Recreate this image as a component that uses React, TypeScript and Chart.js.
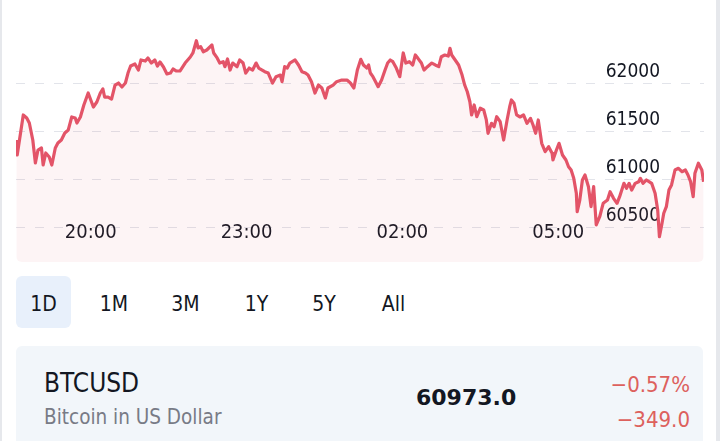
import React, { useEffect, useRef } from "react";
import { Chart, registerables } from "chart.js";

Chart.register(...registerables);

// minutes after 18:00 (session runs past midnight)
const timeMin = [
  34, 35, 42, 46, 49, 53, 56, 59, 63, 65,
  68, 72, 75, 79, 82, 86, 90, 94, 98, 102,
  104, 108, 112, 117, 120, 123, 127, 131, 134, 136,
  140, 144, 148, 152, 156, 160, 163, 166, 171, 175,
  178, 183, 186, 190, 194, 197, 200, 204, 208, 212,
  215, 219, 223, 229, 235, 238, 242, 244, 247, 250,
  254, 260, 262, 266, 269, 273, 275, 278, 281, 284,
  289, 292, 296, 299, 303, 307, 311, 314, 318, 321,
  325, 330, 334, 339, 341, 344, 347, 350, 356, 360,
  364, 368, 371, 375, 379, 383, 387, 391, 394, 400,
  404, 410, 416, 420, 424, 428, 432, 435, 439, 441,
  443, 446, 448, 452, 456, 460, 463, 466, 469, 473,
  477, 481, 484, 488, 492, 495, 498, 502, 505, 509,
  514, 518, 522, 525, 529, 533, 535, 537, 541, 545,
  549, 552, 555, 558, 560, 563, 566, 570, 574, 577,
  579, 583, 586, 589, 593, 597, 601, 604, 606, 609,
  612, 616, 620, 624, 628, 631, 634, 637, 641, 645,
  649, 653, 654, 658, 661, 665, 669, 672, 675, 678,
  681, 682, 685, 688, 691, 695, 698, 701, 704, 708,
  712, 717, 720, 724, 728, 731, 736, 739, 742, 745,
  749, 753, 755, 758, 762, 765, 768, 772, 775, 777,
  780, 782, 785, 788, 791, 795, 799, 803, 807, 810,
  813, 816, 818, 822, 826, 828,
];

const prices = [
  61409, 61253, 61670, 61639, 61586, 61409, 61170, 61305, 61326, 61149,
  61274, 61232, 61149, 61326, 61378, 61409, 61482, 61514, 61649, 61639,
  61586, 61649, 61774, 61899, 61826, 61753, 61805, 61899, 61941, 61857,
  61857, 61836, 61982, 62003, 61961, 62003, 62107, 62180, 62201, 62138,
  62243, 62232, 62264, 62211, 62243, 62180, 62222, 62170, 62097, 62107,
  62149, 62128, 62128, 62211, 62274, 62316, 62444, 62368, 62381, 62329,
  62347, 62399, 62316, 62264, 62211, 62225, 62173, 62253, 62138, 62211,
  62173, 62243, 62211, 62107, 62159, 62138, 62211, 62159, 62138, 62121,
  62107, 62003, 62069, 62086, 62017, 62173, 62159, 62211, 62243, 62191,
  62121, 62107, 62086, 62017, 61899, 61982, 61951, 61847, 61951, 61982,
  62017, 62034, 62034, 62003, 61951, 62138, 62250, 62191, 62159, 62191,
  62107, 62069, 62034, 61965, 62034, 62138, 62211, 62243, 62225, 62159,
  62069, 62316, 62211, 62225, 62191, 62295, 62260, 62211, 62138, 62173,
  62211, 62191, 62173, 62277, 62295, 62284, 62365, 62295, 62243, 62191,
  62086, 61982, 61912, 61808, 61670, 61774, 61652, 61740, 61722, 61618,
  61479, 61583, 61548, 61652, 61600, 61409, 61618, 61756, 61826, 61792,
  61670, 61649, 61670, 61583, 61635, 61566, 61479, 61618, 61375, 61288,
  61340, 61271, 61201, 61305, 61375, 61253, 61201, 61131, 61097, 61010,
  60854, 60663, 60784, 60993, 61045, 60923, 60715, 60923, 60524, 60610,
  60750, 60784, 60871, 60802, 60750, 60819, 60958, 60906, 60958, 60888,
  60958, 60975, 61010, 60958, 60993, 60975, 60958, 60854, 60680, 60402,
  60542, 60646, 60715, 60888, 60941, 61097, 61115, 61079, 61097, 61045,
  60975, 60819, 61062, 61167, 61097, 60973,
];

const xTickMinutes = [120, 300, 480, 660];
const yTickValues = [60500, 61000, 61500, 62000];
const ranges = ["1D", "1M", "3M", "1Y", "5Y", "All"];
const rangeCenters = [43.5, 114, 185.5, 256.5, 324, 393.5];

const symbol = "BTCUSD";
const description = "Bitcoin in US Dollar";
const lastPrice = "60973.0";
const changePct = "\u22120.57%";
const changeAbs = "\u2212349.0";

const LINE = "#e35468";
const FILL = "rgba(228, 84, 104, 0.065)";
const GRID = "#e2e4ea";
const TEXT = "#131722";
const FONT = "'DejaVu Sans Condensed', 'DejaVu Sans', sans-serif";

function pad(n: number) {
  return n < 10 ? "0" + n : String(n);
}
function fmtTime(m: number) {
  const total = 18 * 60 + m;
  const h = Math.floor(total / 60) % 24;
  const mm = Math.round(total % 60);
  return pad(h) + ":" + pad(mm);
}

function PriceChart() {
  const ref = useRef<HTMLCanvasElement | null>(null);
  useEffect(() => {
    if (!ref.current) return;
    const chart = new Chart(ref.current, {
      type: "line",
      data: {
        datasets: [
          {
            data: timeMin.map((t, i) => ({ x: t, y: prices[i] })),
            borderColor: LINE,
            borderWidth: 3.2,
            pointRadius: 0,
            tension: 0,
            fill: "start",
            backgroundColor: FILL,
            borderJoinStyle: "round",
          },
        ],
      },
      options: {
        animation: false,
        responsive: false,
        maintainAspectRatio: false,
        layout: { padding: 0 },
        plugins: { legend: { display: false }, tooltip: { enabled: false } },
        scales: {
          x: {
            type: "linear",
            position: "bottom",
            min: 33.6,
            max: 828.5,
            afterBuildTicks: (s: any) => {
              s.ticks = xTickMinutes.map((v) => ({ value: v }));
            },
            afterFit: (s: any) => {
              s.height = 0;
              s.paddingLeft = 0;
              s.paddingRight = 0;
            },
            grid: { display: false, drawTicks: false },
            border: { display: false },
            ticks: {
              mirror: true,
              padding: 17,
              maxRotation: 0,
              autoSkip: false,
              color: TEXT,
              font: { family: FONT, size: 20 },
              callback: (v: any) => fmtTime(Number(v)),
            },
          },
          y: {
            type: "linear",
            position: "right",
            min: 60138.5,
            max: 62659.4,
            afterBuildTicks: (s: any) => {
              s.ticks = yTickValues.map((v) => ({ value: v }));
            },
            afterFit: (s: any) => {
              s.width = 0;
              s.paddingTop = 0;
              s.paddingBottom = 0;
            },
            grid: { color: GRID, lineWidth: 1, drawTicks: false },
            border: { display: false, dash: [9, 10] },
            ticks: {
              mirror: true,
              padding: -44,
              labelOffset: -11.5,
              color: TEXT,
              font: { family: FONT, size: 19 },
              callback: (v: any) => String(v),
            },
          },
        },
      },
    } as any);
    return () => chart.destroy();
  }, []);
  return (
    <canvas
      ref={ref}
      width={688}
      height={242}
      style={{ display: "block", width: 688, height: 242 }}
    />
  );
}

const abs = (o: React.CSSProperties): React.CSSProperties => ({
  position: "absolute",
  ...o,
});

export default function App() {
  return (
    <div
      style={abs({
        left: 0,
        top: 0,
        width: 720,
        height: 441,
        overflow: "hidden",
        background: "#ffffff",
        fontFamily: FONT,
        color: TEXT,
      })}
    >
      <div style={abs({ left: 0, top: 0, width: 2, height: 441, background: "#e6e8ec" })} />
      <div style={abs({ left: 716, top: 0, width: 4, height: 441, background: "#e6e8ec" })} />

      <div
        style={abs({
          left: 16,
          top: 20,
          width: 688,
          height: 242,
          borderRadius: 6,
          overflow: "hidden",
        })}
      >
        <PriceChart />
      </div>

      <div
        style={abs({
          left: 16,
          top: 276,
          width: 55,
          height: 52,
          borderRadius: 6,
          background: "#e8f0fb",
        })}
      />
      {ranges.map((r, i) => (
        <div
          key={r}
          style={abs({
            left: rangeCenters[i] - 35,
            top: 293.5,
            width: 70,
            textAlign: "center",
            fontSize: 21,
            lineHeight: 1,
            whiteSpace: "nowrap",
          })}
        >
          {r}
        </div>
      ))}

      <div
        style={abs({
          left: 16,
          top: 346,
          width: 687,
          height: 120,
          borderRadius: 6,
          background: "#f2f6fa",
        })}
      />
      <div style={abs({ left: 44, top: 370, fontSize: 26, lineHeight: 1, whiteSpace: "nowrap" })}>
        {symbol}
      </div>
      <div
        style={abs({
          left: 44,
          top: 406.7,
          fontSize: 20.5,
          lineHeight: 1,
          color: "#787b86",
          whiteSpace: "nowrap",
        })}
      >
        {description}
      </div>
      <div
        style={abs({
          left: 416,
          top: 387.4,
          fontSize: 22,
          lineHeight: 1,
          fontWeight: 700,
          fontFamily: "'DejaVu Sans', sans-serif",
          whiteSpace: "nowrap",
        })}
      >
        {lastPrice}
      </div>
      <div
        style={abs({
          right: 30,
          top: 374.4,
          fontSize: 22,
          lineHeight: 1,
          color: "#dd615d",
          whiteSpace: "nowrap",
        })}
      >
        {changePct}
      </div>
      <div
        style={abs({
          right: 30,
          top: 409.4,
          fontSize: 22,
          lineHeight: 1,
          color: "#dd615d",
          whiteSpace: "nowrap",
        })}
      >
        {changeAbs}
      </div>
    </div>
  );
}
